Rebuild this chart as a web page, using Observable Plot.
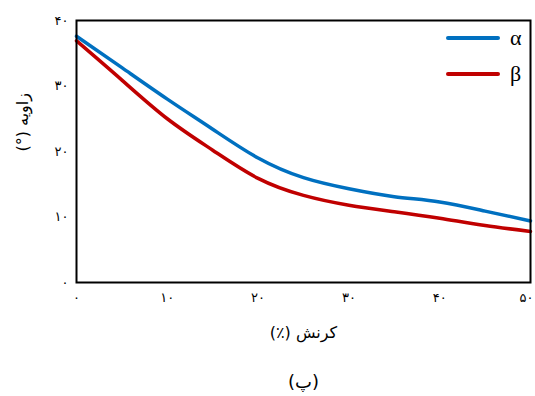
<!DOCTYPE html>
<html>
<head>
<meta charset="utf-8">
<script src="https://cdn.jsdelivr.net/npm/d3@7"></script>
<script src="https://cdn.jsdelivr.net/npm/@observablehq/plot@0.6"></script>
<style>
  body { margin: 0; background: #fff; }
  #wrap { position: relative; width: 535px; }
  #legend { position: absolute; left: 446px; top: 20px; font-family: "Liberation Serif", serif; font-size: 22px; }
  #legend .row { display: flex; align-items: center; height: 36px; }
  #legend .sw { width: 54px; height: 4px; border-radius: 2px; margin-right: 10px; }
  #caption { width: 535px; box-sizing: border-box; padding-left: 72px; text-align: center; font-family: "DejaVu Sans", sans-serif; font-size: 18px; margin-top: 21px; direction: rtl; unicode-bidi: plaintext; }
</style>
</head>
<body>
<div id="wrap"><div id="chart"></div><div id="legend"></div></div>
<div id="caption"></div>
<script>
const strain = [0, 5, 10, 15, 20, 25, 30, 35, 40, 45, 50];
const alphaValues = [37.6, 32.8, 28.0, 23.4, 19.0, 16.0, 14.3, 13.1, 12.3, 10.9, 9.4];
const betaValues  = [36.9, 30.9, 25.0, 20.2, 15.9, 13.3, 11.8, 10.8, 9.8, 8.7, 7.8];
const seriesNames = ["α", "β"];
const seriesColors = ["#0070C0", "#C00000"];
const xTicks = [0, 10, 20, 30, 40, 50];
const xTickLabels = ["۰", "۱۰", "۲۰", "۳۰", "۴۰", "۵۰"];
const yTicks = [0, 10, 20, 30, 40];
const yTickLabels = ["۰", "۱۰", "۲۰", "۳۰", "۴۰"];
const xLabel = "کرنش (٪)";
const yLabel = "زاویه (°)";
const captionText = "(پ)";

const rtl = s => "\u202B" + s + "\u202C";

const data = [];
strain.forEach((s, i) => {
  data.push({x: s, y: alphaValues[i], series: seriesNames[0]});
  data.push({x: s, y: betaValues[i], series: seriesNames[1]});
});

const lastX = xTicks[xTicks.length - 1];
const xFmt = d => xTickLabels[xTicks.indexOf(d)];

const plot = Plot.plot({
  width: 535,
  height: 350,
  marginLeft: 76,
  marginRight: 5,
  marginTop: 20,
  marginBottom: 68,
  style: { fontFamily: "DejaVu Sans, sans-serif", background: "#fff" },
  x: { domain: [0, 50] },
  y: { domain: [0, 40] },
  color: { domain: seriesNames, range: seriesColors },
  marks: [
    Plot.axisX({ ticks: xTicks.filter(d => d !== lastX), tickFormat: xFmt, tickSize: 0, tickPadding: 10, fontSize: 13, label: null }),
    Plot.axisX({ ticks: [lastX], tickFormat: xFmt, tickSize: 0, tickPadding: 10, fontSize: 13, textAnchor: "end", dx: 3, label: null }),
    Plot.axisY({ ticks: yTicks, tickFormat: d => yTickLabels[yTicks.indexOf(d)], tickSize: 0, tickPadding: 8, fontSize: 13, label: null }),
    Plot.line(data, { x: "x", y: "y", z: "series", stroke: "series", strokeWidth: 3.5, curve: "natural" }),
    Plot.frame({ stroke: "black", strokeWidth: 2 }),
    Plot.text([xLabel], { text: d => rtl(d), frameAnchor: "bottom", dy: 55, fontSize: 16 }),
    Plot.text([yLabel], { text: d => rtl(d), frameAnchor: "left", dx: -54, rotate: -90, fontSize: 16 })
  ]
});
document.getElementById("chart").appendChild(plot);

const legend = document.getElementById("legend");
seriesNames.forEach((n, i) => {
  const row = document.createElement("div");
  row.className = "row";
  row.innerHTML = `<div class="sw" style="background:${seriesColors[i]}"></div><span>${n}</span>`;
  legend.appendChild(row);
});
document.getElementById("caption").textContent = captionText;
</script>
</body>
</html>
